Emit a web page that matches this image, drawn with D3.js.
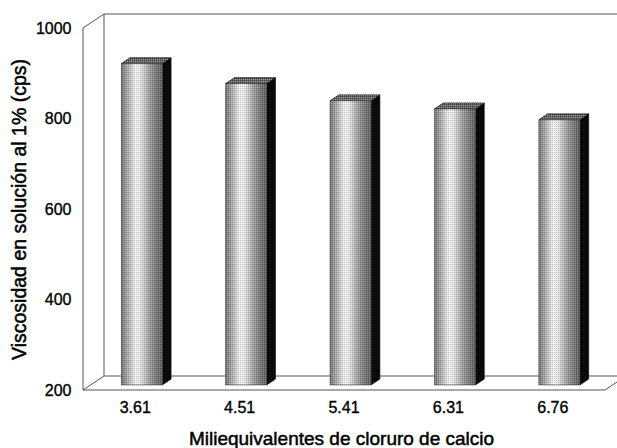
<!DOCTYPE html>
<html>
<head>
<meta charset="utf-8">
<script src="https://cdn.jsdelivr.net/npm/d3@7"></script>
<style>
  html, body { margin: 0; padding: 0; background: #fff; }
  svg { display: block; }
  text { font-family: "Liberation Sans", Arial, sans-serif; fill: #000; }
</style>
</head>
<body>
<svg id="chart" width="617" height="448"></svg>
<script>
// ---- data ----
const categories = ["3.61", "4.51", "5.41", "6.31", "6.76"];
const viscosity = [910, 866, 828, 810, 786];
const yTicks = [200, 400, 600, 800, 1000];
const yTitle = "Viscosidad en solución al 1% (cps)";
const xTitle = "Miliequivalentes de cloruro de calcio";

// ---- layout ----
const W = 617, H = 448;
const plotLeft = 83, plotRight = 605, plotBottom = 390, plotTop = 28;
const depthX = 21, depthY = -14;       // back-wall offset
const fFront = 0.36, fBack = 0.78;     // bar depth fractions
const barW = 41;

const svg = d3.select("#chart");
const defs = svg.append("defs");

const x = d3.scaleBand().domain(categories).range([plotLeft, plotRight]);
const y = d3.scaleLinear().domain([200, 1000]).range([plotBottom, plotTop]);

// gradient for the cylinder-like front face
const grad = defs.append("linearGradient").attr("id", "front").attr("x1", 0).attr("x2", 1).attr("y1", 0).attr("y2", 0);
[[0, "#747474"], [0.12, "#a0a0a0"], [0.35, "#f4f4f4"], [0.45, "#ededed"], [0.7, "#9c9c9c"], [0.9, "#6e6e6e"], [1, "#626262"]]
  .forEach(([o, c]) => grad.append("stop").attr("offset", o).attr("stop-color", c));

// halftone-like dither overlay
const pat = defs.append("pattern").attr("id", "dither").attr("width", 2).attr("height", 2)
  .attr("patternUnits", "userSpaceOnUse");
pat.append("rect").attr("x", 0).attr("y", 0).attr("width", 1).attr("height", 1).attr("fill", "#000");
pat.append("rect").attr("x", 1).attr("y", 1).attr("width", 1).attr("height", 1).attr("fill", "#fff");

const clip = defs.append("clipPath").attr("id", "clipAll");
clip.append("rect").attr("width", W).attr("height", H);

const g = svg.append("g").attr("clip-path", "url(#clipAll)");

// ---- walls / floor ----
const lineCol = "#555";
const wallRight = plotRight + depthX;
const walls = [
  [[plotLeft, y(1000)], [plotLeft, y(200)]],
  [[plotLeft + depthX, y(1000) + depthY], [plotLeft + depthX, y(200) + depthY]],
  [[plotLeft, y(1000)], [plotLeft + depthX, y(1000) + depthY]],
  [[plotLeft, y(200)], [plotLeft + depthX, y(200) + depthY]],
  [[plotLeft + depthX, y(1000) + depthY], [wallRight + 10, y(1000) + depthY]],
  [[plotLeft + depthX, y(200) + depthY], [wallRight + 10, y(200) + depthY]],
  [[plotLeft, y(200)], [plotRight, y(200)]],
  [[plotRight, y(200)], [plotRight + depthX, y(200) + depthY]]
];
g.selectAll("line.wall").data(walls).join("line")
  .attr("class", "wall")
  .attr("x1", d => d[0][0]).attr("y1", d => d[0][1])
  .attr("x2", d => d[1][0]).attr("y2", d => d[1][1])
  .attr("stroke", lineCol).attr("stroke-width", 1);

// ---- bars ----
const data = categories.map((c, i) => ({ c, v: viscosity[i] }));
const bx = d => x(d.c) + x.bandwidth() / 2 - barW / 2 + depthX * fFront - 1;
const fy = d => y(d.v) + depthY * fFront;
const fb = y(200) + depthY * fFront;
const ddx = depthX * (fBack - fFront), ddy = depthY * (fBack - fFront);

const bars = g.selectAll("g.bar").data(data).join("g").attr("class", "bar");

bars.append("path")
  .attr("d", d => {
    const x0 = bx(d) + barW;
    return `M${x0},${fy(d)} L${x0 + ddx},${fy(d) + ddy} L${x0 + ddx},${fb + ddy} L${x0},${fb} Z`;
  })
  .attr("fill", "#0a0a0a").attr("stroke", "#000").attr("stroke-width", 0.6);

const capPath = d => {
  const x0 = bx(d);
  return `M${x0},${fy(d)} L${x0 + ddx},${fy(d) + ddy} L${x0 + barW + ddx},${fy(d) + ddy} L${x0 + barW},${fy(d)} Z`;
};
bars.append("path").attr("d", capPath)
  .attr("fill", "#646464").attr("stroke", "#111").attr("stroke-width", 0.8);
bars.append("path").attr("d", capPath)
  .attr("fill", "url(#dither)").attr("opacity", 0.35);

bars.append("rect")
  .attr("x", bx).attr("y", fy)
  .attr("width", barW).attr("height", d => fb - fy(d))
  .attr("fill", "url(#front)");
bars.append("rect")
  .attr("x", bx).attr("y", fy)
  .attr("width", barW).attr("height", d => fb - fy(d))
  .attr("fill", "url(#dither)").attr("opacity", 0.22);
bars.append("rect")
  .attr("x", bx).attr("y", fy)
  .attr("width", barW).attr("height", d => fb - fy(d))
  .attr("fill", "none").attr("stroke", "#444").attr("stroke-width", 0.6);

// ---- axes ----
const yAxis = svg.append("g").attr("transform", `translate(${plotLeft},0)`)
  .call(d3.axisLeft(y).tickValues(yTicks).tickSize(0).tickPadding(11.5).tickFormat(d3.format("d")));
yAxis.select(".domain").remove();
yAxis.selectAll("text").style("font-size", "16px").style("font-family", '"Liberation Sans", Arial, sans-serif')
  .attr("fill", "#000").attr("stroke", "#000").attr("stroke-width", 0.35);

const xAxis = svg.append("g").attr("transform", `translate(0,${plotBottom})`)
  .call(d3.axisBottom(x).tickSize(0).tickPadding(12));
xAxis.select(".domain").remove();
xAxis.selectAll("text").style("font-size", "16px").style("font-family", '"Liberation Sans", Arial, sans-serif')
  .attr("fill", "#000").attr("stroke", "#000").attr("stroke-width", 0.35);

// ---- titles ----
svg.append("text")
  .attr("x", 341.5).attr("y", 445)
  .attr("text-anchor", "middle")
  .style("font-size", "19px")
  .attr("stroke", "#000").attr("stroke-width", 0.5)
  .text(xTitle);

svg.append("text")
  .attr("transform", "translate(26,209.5) rotate(-90)")
  .attr("text-anchor", "middle")
  .style("font-size", "19.5px")
  .attr("stroke", "#000").attr("stroke-width", 0.5)
  .text(yTitle);
</script>
</body>
</html>
